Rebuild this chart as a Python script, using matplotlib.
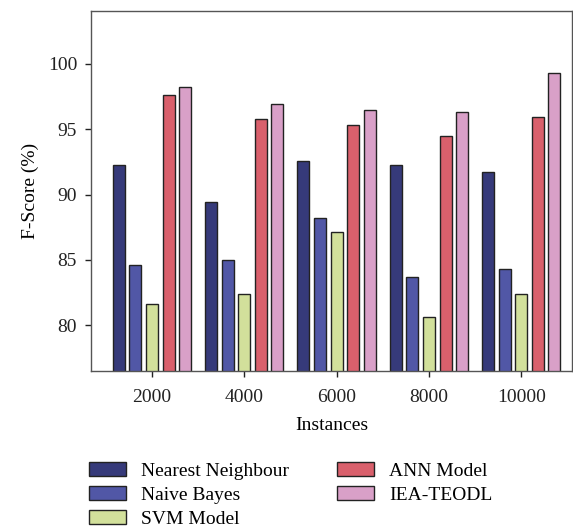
import numpy as np
import matplotlib.pyplot as plt

instances = ['2000', '4000', '6000', '8000', '10000']
models = ['Nearest Neighbour', 'Naive Bayes', 'SVM Model', 'ANN Model', 'IEA-TEODL']
nearest_neighbour = [92.3, 89.4, 92.6, 92.3, 91.7]
naive_bayes = [84.6, 85.0, 88.2, 83.7, 84.3]
svm_model = [81.6, 82.4, 87.1, 80.6, 82.4]
ann_model = [97.6, 95.8, 95.3, 94.5, 95.9]
iea_teodl = [98.2, 96.9, 96.5, 96.3, 99.3]
series = [nearest_neighbour, naive_bayes, svm_model, ann_model, iea_teodl]
colors = ['#363a7a', '#5157a6', '#d2e09b', '#d9606c', '#d9a0c8']

plt.rcParams['font.family'] = ['Liberation Serif', 'DejaVu Serif']

fig = plt.figure(figsize=(5.73, 5.32), dpi=100)
ax = fig.add_axes([91 / 573, 1 - 371 / 532, 481 / 573, 360 / 532])

x = np.arange(len(instances))
pitch = 0.18
width = 0.13
for i, (vals, name) in enumerate(zip(series, models)):
    ax.bar(x + (i - 2) * pitch, vals, width, color=colors[i], edgecolor='#222222',
           linewidth=1.0, label=name)

ax.set_ylim(76.5, 104.05)
ax.set_xlim(-0.66, 4.55)
ax.set_yticks([80, 85, 90, 95, 100])
ax.set_xticks(x)
ax.set_xticklabels(instances)
ax.tick_params(labelsize=14, colors='#222222', length=4, width=1)
ax.tick_params(axis='y', pad=6)
ax.tick_params(axis='x', pad=9)
for s in ax.spines.values():
    s.set_color('#555555')
    s.set_linewidth(1.0)

ax.set_xlabel('Instances', fontsize=14, labelpad=8)
ax.set_ylabel('F-Score (%)', fontsize=14, labelpad=6)

ax.legend(loc='upper left', bbox_to_anchor=(-0.04, -0.205), ncol=2, frameon=False,
          fontsize=14, handlelength=1.9, handleheight=0.7, columnspacing=2.5,
          labelspacing=0.32, handletextpad=0.75)

fig.savefig('out.png', dpi=100)
